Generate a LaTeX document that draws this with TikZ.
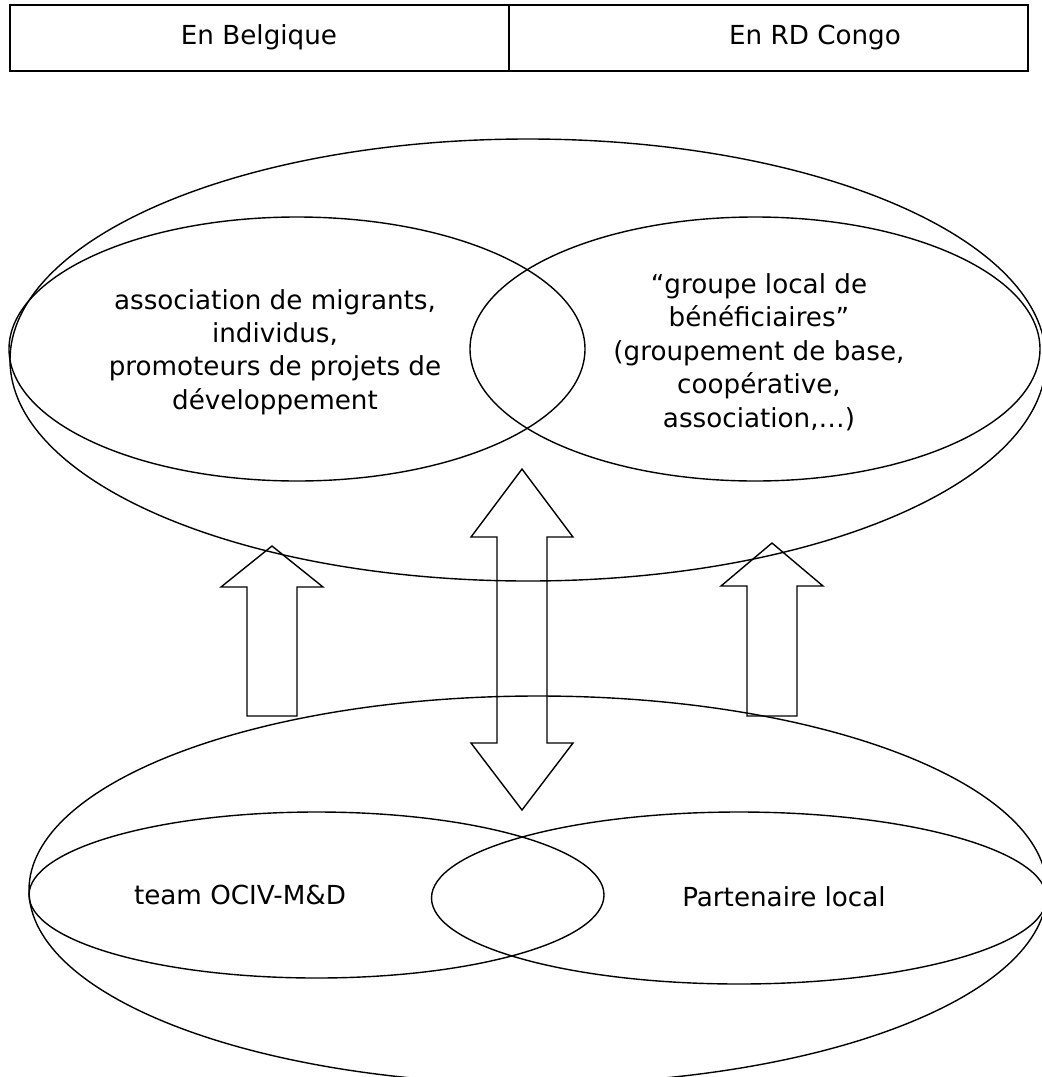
\documentclass[tikz,border=0pt]{standalone}
\usepackage{fontspec}
\setmainfont{DejaVu Sans}
\usetikzlibrary{shapes.geometric}

\tikzset{
  oval/.style={draw, ellipse, line width=1.4pt, inner sep=0pt},
  lbl/.style={align=center, font=\fontsize{26.2}{33.4}\selectfont},
  bigarrow/.style={draw, line width=1.4pt, line join=miter}
}

\begin{document}
\begin{tikzpicture}[x=1pt, y=-1pt]
  \useasboundingbox (0,0) rectangle (1042,1077);
  \clip (0,0) rectangle (1042,1077);

  % header table
  \draw[line width=2pt] (10,5) rectangle (1028,71);
  \draw[line width=2pt] (509,5) -- (509,71);
  \node[lbl] (be) at (259,37) {En Belgique};
  \node[lbl] (rdc) at (815,37) {En RD Congo};

  % upper group
  \node[oval, minimum width=1036pt, minimum height=442pt] (top) at (528,360) {};
  \node[oval, minimum width=576pt, minimum height=264pt] (mig) at (297,349) {};
  \node[oval, minimum width=570pt, minimum height=264pt] (grp) at (755,349) {};
  \node[lbl] (migtxt) at (275,352) {association de migrants,\\individus,\\promoteurs de projets de\\développement};
  \node[lbl] (grptxt) at (759,352) {“groupe local de\\bénéficiaires”\\(groupement de base,\\coopérative,\\association,…)};

  % lower group
  \node[oval, minimum width=1018pt, minimum height=388pt] (bot) at (538,890) {};
  \node[oval, minimum width=575pt, minimum height=166pt] (team) at (316.5,895) {};
  \node[oval, minimum width=615pt, minimum height=172pt] (part) at (739,898) {};
  \node[lbl] (teamtxt) at (240,895) {team OCIV-M\&D};
  \node[lbl] (parttxt) at (784,897) {Partenaire local};

  % block arrows
  \coordinate (ltip) at (272,546);
  \coordinate (rtip) at (772,543);
  \coordinate (mtop) at (522,469);
  \coordinate (mbot) at (522,810);
  \draw[bigarrow] (ltip) -- ++(51,41) -- ++(-26,0) -- ++(0,129) -- ++(-50,0)
    -- ++(0,-129) -- ++(-26,0) -- cycle;
  \draw[bigarrow] (rtip) -- ++(51,43) -- ++(-26,0) -- ++(0,130) -- ++(-50,0)
    -- ++(0,-130) -- ++(-26,0) -- cycle;
  \draw[bigarrow] (mtop) -- ++(-51,68) -- ++(26,0) -- ++(0,206) -- ++(-26,0)
    -- (mbot) -- ++(51,-67) -- ++(-26,0) -- ++(0,-206) -- ++(26,0) -- cycle;
\end{tikzpicture}
\end{document}
